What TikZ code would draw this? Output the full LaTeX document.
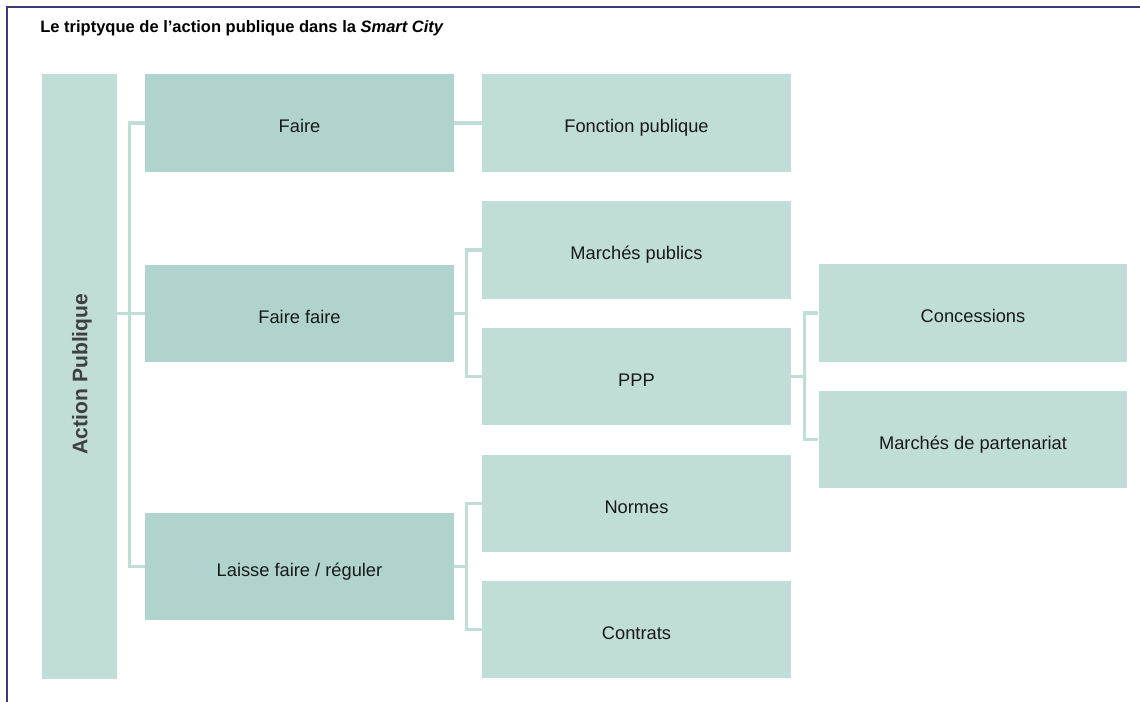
\documentclass[tikz,border=0pt]{standalone}
\usepackage{fontspec}
\setmainfont{Liberation Sans}
\usetikzlibrary{positioning}
\definecolor{boxdark}{RGB}{176,212,205}
\definecolor{boxlight}{RGB}{192,221,216}
\definecolor{frameblue}{RGB}{62,60,120}
\begin{document}
\begin{tikzpicture}[x=0.02cm, y=-0.02cm,
    tier/.style={fill=boxdark, minimum width=6.18cm, minimum height=1.96cm, inner sep=0pt, text height=11pt, text depth=0pt, text=black!90, font=\fontsize{10.4}{12}\selectfont},
    leaf/.style={tier, fill=boxlight},
    link/.style={boxlight, line width=1.9pt}]
            \useasboundingbox (0,0) rectangle (1140,702);
            \draw[frameblue, line width=1.1pt] (7,702) -- (7,7) -- (1140,7);
            \node[anchor=base west, inner sep=0pt, font=\fontsize{9.4}{11}\selectfont\bfseries] (title) at (40,33) {Le triptyque de l'action publique dans la \textit{Smart City}};
            % colonne de gauche
            \node[fill=boxlight, minimum width=1.5cm, minimum height=12.1cm, inner sep=0pt] (action) at (79.5,376.5) {};
            \node[rotate=90, font=\fontsize{12}{14}\selectfont\bfseries, text=black!75] (actiontxt) at (82,374) {Action Publique};
            % premier niveau
            \node[tier] (faire) at (299.5,123) {Faire};
            \node[tier] (fairefaire) at (299.5,313.5) {Faire faire};
            \node[tier, minimum height=2.14cm] (laisser) at (299.5,566.5) {Laisse faire / réguler};
            % second niveau
            \node[leaf] (fonction) at (636.5,123) {Fonction publique};
            \node[leaf] (marches) at (636.5,250) {Marchés publics};
            \node[leaf] (ppp) at (636.5,376.5) {PPP};
            \node[leaf] (normes) at (636.5,503.5) {Normes};
            \node[leaf] (contrats) at (636.5,629.5) {Contrats};
            % troisieme niveau
            \node[leaf] (concessions) at (973,313) {Concessions};
            \node[leaf] (partenariat) at (973,439.5) {Marchés de partenariat};
            % liens
            \draw[link] (action.east |- fairefaire.west) -- (fairefaire.west);
            \draw[link] (faire.west) -- ++(-15,0) |- (laisser.west);
            \draw[link] (faire.east) -- (fonction.west);
            \draw[link] (fairefaire.east) -- ++(13,0);
            \draw[link] (marches.west) -- ++(-15,0) |- (ppp.west);
            \draw[link] (laisser.east) -- ++(13,0);
            \draw[link] (normes.west) -- ++(-15,0) |- (contrats.west);
            \draw[link] (ppp.east) -- ++(13,0);
            \draw[link] (concessions.west) -- ++(-14,0) |- (partenariat.west);
\end{tikzpicture}
\end{document}
